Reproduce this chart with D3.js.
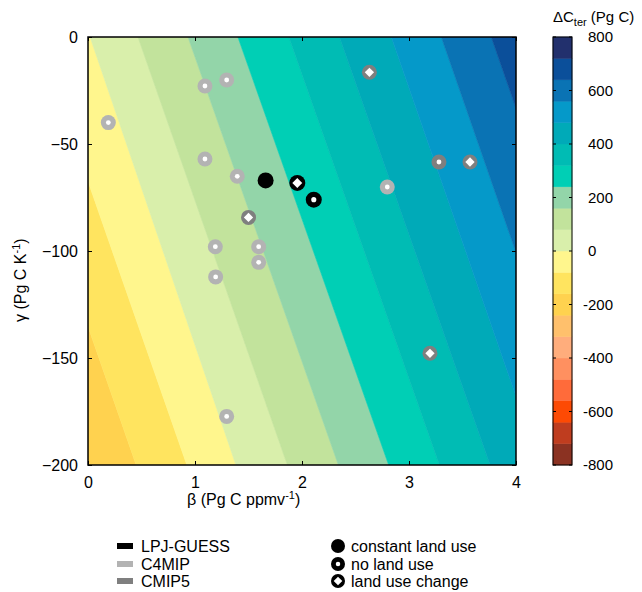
<!DOCTYPE html>
<html>
<head>
<meta charset="utf-8">
<script src="https://cdn.jsdelivr.net/npm/d3@7"></script>
<style>
  body { margin: 0; background: #fff; }
  svg { font-family: "Liberation Sans", Arial, sans-serif; }
</style>
</head>
<body>
<div id="canvas"></div>
<script>
// contour levels (Pg C) and where each boundary crosses the top (gamma=0) and bottom (gamma=-200) of the plot
const levels = [-240, -160, -80, 0, 80, 160, 240, 320, 400, 480, 560, 640, 720];
const betaTop = [-1.41, -0.94, -0.47, 0.02, 0.467, 0.935, 1.401, 1.877, 2.35, 2.835, 3.302, 3.769, 4.23];
const betaBottom = [-0.02, 0.45, 0.924, 1.383, 1.864, 2.34, 2.81, 3.284, 3.758, 4.223, 4.69, 5.16, 5.63];

// colour bar bands, from -800 to 800 in steps of 80
const bandEdges = d3.range(-800, 801, 80);
const bandColors = [
  "#8b3222", "#bf3d1f", "#fd4a04", "#ff6b3a", "#ff9060",
  "#ffad7c", "#ffc06c", "#ffd24f", "#ffe45f", "#fff68d",
  "#d9efab", "#c2e39c", "#93d5a9", "#00cfb5", "#00bcb4",
  "#00aab8", "#0599c9", "#0a73b4", "#0b4f9a", "#22306d"
];
const cbarTicks = [-800, -600, -400, -200, 0, 200, 400, 600, 800];

const xTicks = [0, 1, 2, 3, 4];
const yTicks = [0, -50, -100, -150, -200];

// model estimates of beta and gamma
const lpjGuess = [
  { beta: 1.66, gamma: -67.0, kind: "constant" },
  { beta: 2.11, gamma: -76.0, kind: "noLU" },
  { beta: 1.956, gamma: -68.2, kind: "luc" }
];
const c4mip = [
  { beta: 1.093, gamma: -22.9 },
  { beta: 1.296, gamma: -20.1 },
  { beta: 0.19, gamma: -40.0 },
  { beta: 1.093, gamma: -57.0 },
  { beta: 1.395, gamma: -65.1 },
  { beta: 1.19, gamma: -98.0 },
  { beta: 1.595, gamma: -98.0 },
  { beta: 1.595, gamma: -105.3 },
  { beta: 1.193, gamma: -112.1 },
  { beta: 1.296, gamma: -177.3 },
  { beta: 2.797, gamma: -70.1 }
];
const cmip5 = [
  { beta: 1.50, gamma: -84.3, kind: "luc" },
  { beta: 2.63, gamma: -16.5, kind: "luc" },
  { beta: 3.28, gamma: -58.4, kind: "noLU" },
  { beta: 3.57, gamma: -58.4, kind: "luc" },
  { beta: 3.196, gamma: -147.8, kind: "luc" }
];

const width = 642;
const height = 592;
const margin = { top: 37, left: 88, bottom: 127, right: 126 };
const fs = 16;

const svg = d3.select("#canvas")
  .append("svg")
  .attr("width", width)
  .attr("height", height);

const x = d3.scaleLinear().domain([0, 4]).range([margin.left, width - margin.right]);
const y = d3.scaleLinear().domain([-200, 0]).range([height - margin.bottom, margin.top]);
const cval = d3.scaleLinear().domain([-800, 800]).range([height - margin.bottom, margin.top]);
const colorOf = v => bandColors[Math.floor((v + 800) / 80)];

svg.append("clipPath")
  .attr("id", "plotclip")
  .append("rect")
  .attr("x", x(0)).attr("y", y(0))
  .attr("width", x(4) - x(0)).attr("height", y(-200) - y(0));

// filled contour bands
const bands = d3.range(levels.length - 1).map(i => ({
  lo: levels[i],
  pts: [
    [betaTop[i], 0], [betaTop[i + 1], 0],
    [betaBottom[i + 1], -200], [betaBottom[i], -200]
  ]
}));

svg.append("g")
  .attr("clip-path", "url(#plotclip)")
  .selectAll("polygon")
  .data(bands)
  .enter()
  .append("polygon")
  .attr("points", d => d.pts.map(p => [x(p[0]), y(p[1])].join(",")).join(" "))
  .attr("fill", d => colorOf(d.lo + 1))
  .attr("stroke", d => colorOf(d.lo + 1))
  .attr("stroke-width", 0.6);

// axes with inward ticks on all four sides
const tickLen = 4;
svg.append("g")
  .attr("transform", `translate(0,${y(-200)})`)
  .call(d3.axisBottom(x).tickValues(xTicks).tickSize(-tickLen).tickPadding(12).tickFormat(d3.format("d")))
  .call(g => g.select(".domain").remove());
svg.append("g")
  .attr("transform", `translate(0,${y(0)})`)
  .call(d3.axisTop(x).tickValues(xTicks).tickSize(-tickLen).tickFormat(""))
  .call(g => g.select(".domain").remove());
svg.append("g")
  .attr("transform", `translate(${x(0)},0)`)
  .call(d3.axisLeft(y).tickValues(yTicks).tickSize(-tickLen).tickPadding(10).tickFormat(d3.format("d")))
  .call(g => g.select(".domain").remove());
svg.append("g")
  .attr("transform", `translate(${x(4)},0)`)
  .call(d3.axisRight(y).tickValues(yTicks).tickSize(-tickLen).tickFormat(""))
  .call(g => g.select(".domain").remove());

svg.selectAll(".tick text")
  .attr("font-size", fs)
  .attr("fill", "#000")
  .attr("font-family", "Liberation Sans, Arial, sans-serif");
svg.selectAll(".tick line").attr("stroke", "#000");

svg.append("rect")
  .attr("x", x(0)).attr("y", y(0))
  .attr("width", x(4) - x(0)).attr("height", y(-200) - y(0))
  .attr("fill", "none")
  .attr("stroke", "#000")
  .attr("stroke-width", 1.5);

// markers
const drawMarker = (sel, color, kind, r) => {
  sel.append("circle").attr("r", r).attr("fill", color);
  if (kind === "noLU") {
    sel.append("circle").attr("r", r * 0.32).attr("fill", "#fff");
  } else if (kind === "luc") {
    const s = r * 0.62;
    sel.append("path")
      .attr("d", `M0,${-s}L${s},0L0,${s}L${-s},0Z`)
      .attr("fill", "#fff");
  }
};

const markers = svg.append("g");
c4mip.forEach(d => {
  const g = markers.append("g").attr("transform", `translate(${x(d.beta)},${y(d.gamma)})`);
  drawMarker(g, "#b3b3b3", "noLU", 7.5);
});
cmip5.forEach(d => {
  const g = markers.append("g").attr("transform", `translate(${x(d.beta)},${y(d.gamma)})`);
  drawMarker(g, "#7f7f7f", d.kind, 7.5);
});
lpjGuess.forEach(d => {
  const g = markers.append("g").attr("transform", `translate(${x(d.beta)},${y(d.gamma)})`);
  drawMarker(g, "#000", d.kind, 8);
});

// axis titles
const xt = svg.append("text")
  .attr("x", 187).attr("y", 505)
  .attr("font-size", fs);
xt.append("tspan").text("β (Pg C ppmv");
xt.append("tspan").attr("font-size", 11).attr("dy", -6).text("-1");
xt.append("tspan").attr("dy", 6).text(")");

const yt = svg.append("text")
  .attr("transform", "translate(26,322) rotate(-90)")
  .attr("font-size", fs);
yt.append("tspan").text("γ (Pg C K");
yt.append("tspan").attr("font-size", 11).attr("dy", -6).text("-1");
yt.append("tspan").attr("dy", 6).text(")");

// colour bar
const cbX = 553;
const cbW = 19;
const cb = svg.append("g");
cb.selectAll("rect")
  .data(d3.range(bandColors.length))
  .enter()
  .append("rect")
  .attr("x", cbX)
  .attr("y", i => cval(bandEdges[i + 1]))
  .attr("width", cbW)
  .attr("height", i => cval(bandEdges[i]) - cval(bandEdges[i + 1]))
  .attr("fill", i => bandColors[i])
  .attr("stroke", i => bandColors[i])
  .attr("stroke-width", 0.5);
cb.append("rect")
  .attr("x", cbX).attr("y", cval(800))
  .attr("width", cbW).attr("height", cval(-800) - cval(800))
  .attr("fill", "none").attr("stroke", "#000");
cbarTicks.forEach(v => {
  cb.append("line").attr("x1", cbX).attr("x2", cbX + 3).attr("y1", cval(v)).attr("y2", cval(v)).attr("stroke", "#000");
  cb.append("line").attr("x1", cbX + cbW - 3).attr("x2", cbX + cbW).attr("y1", cval(v)).attr("y2", cval(v)).attr("stroke", "#000");
  cb.append("text")
    .attr("x", v < 0 ? 583 : 588)
    .attr("y", cval(v) + 5)
    .attr("font-size", 15)
    .text(v);
});
const ct = svg.append("text").attr("x", 553).attr("y", 22).attr("font-size", 15);
ct.append("tspan").text("ΔC");
ct.append("tspan").attr("font-size", 11).attr("dy", 4).text("ter");
ct.append("tspan").attr("dy", -4).text(" (Pg C)");

// legends
const seriesLegend = [
  { name: "LPJ-GUESS", color: "#000" },
  { name: "C4MIP", color: "#b3b3b3" },
  { name: "CMIP5", color: "#7f7f7f" }
];
const kindLegend = [
  { name: "constant land use", kind: "constant" },
  { name: "no land use", kind: "noLU" },
  { name: "land use change", kind: "luc" }
];
const rowY = [546, 564, 581];

seriesLegend.forEach((d, i) => {
  svg.append("rect")
    .attr("x", 117).attr("y", rowY[i] - 3)
    .attr("width", 16).attr("height", 6)
    .attr("fill", d.color);
  svg.append("text")
    .attr("x", 141).attr("y", rowY[i] + 6)
    .attr("font-size", fs)
    .text(d.name);
});
kindLegend.forEach((d, i) => {
  const g = svg.append("g").attr("transform", `translate(338,${rowY[i]})`);
  drawMarker(g, "#000", d.kind, 7);
  svg.append("text")
    .attr("x", 351).attr("y", rowY[i] + 6)
    .attr("font-size", fs)
    .text(d.name);
});
</script>
</body>
</html>
